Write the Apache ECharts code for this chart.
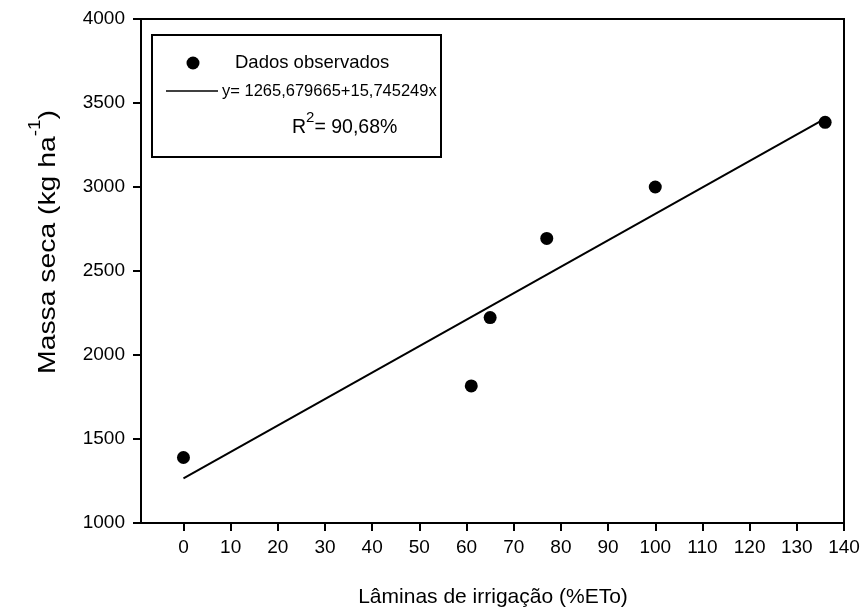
<!DOCTYPE html>
<html>
<head>
<meta charset="utf-8">
<script src="https://cdn.jsdelivr.net/npm/echarts@6/dist/echarts.min.js"></script>
<style>
  html, body { margin: 0; padding: 0; background: #fff; }
  #chart { width: 867px; height: 616px; }
</style>
</head>
<body>
<div id="chart"></div>
<script>
// Irrigation depth (%ETo) and observed dry mass (kg/ha)
const laminas = [0, 61, 65, 77, 100, 136];
const massaSeca = [1390, 1816, 2223, 2694, 3000, 3385];

// Fitted regression: y = a + b x
const intercept = 1265.679665;
const slope = 15.745249;
const r2Text = '90,68%';
const fitRange = [0, 136];

const xTicks = [0, 10, 20, 30, 40, 50, 60, 70, 80, 90, 100, 110, 120, 130, 140];
const yTicks = [1000, 1500, 2000, 2500, 3000, 3500, 4000];

const xTitle = 'Lâminas de irrigação (%ETo)';
const yTitleMain = 'Massa seca (kg ha';
const yTitleSup = '-1';

const fitLine = fitRange.map(x => [x, intercept + slope * x]);
const observed = laminas.map((x, i) => [x, massaSeca[i]]);
const fmt = v => v.toFixed(6).replace('.', ',');

const FONT = '"Liberation Sans", Arial, sans-serif';
const chart = echarts.init(document.getElementById('chart'), null, { renderer: 'canvas' });

chart.setOption({
  animation: false,
  backgroundColor: '#ffffff',
  grid: { left: 141, right: 23, top: 19, bottom: 93, show: true, borderColor: '#000', borderWidth: 2, backgroundColor: 'transparent' },
  xAxis: {
    type: 'value',
    min: -9,
    max: 140,
    axisLine: { show: true, onZero: false, lineStyle: { color: '#000', width: 2 } },
    axisTick: { show: true, inside: false, length: 8, lineStyle: { color: '#000', width: 2 }, customValues: xTicks },
    axisLabel: { fontFamily: FONT, fontSize: 19, color: '#000', margin: 15, customValues: xTicks },
    splitLine: { show: false }
  },
  yAxis: {
    type: 'value',
    min: 1000,
    max: 4000,
    axisLine: { show: true, onZero: false, lineStyle: { color: '#000', width: 2 } },
    axisTick: { show: true, inside: false, length: 8, lineStyle: { color: '#000', width: 2 }, customValues: yTicks },
    axisLabel: { fontFamily: FONT, fontSize: 19, color: '#000', margin: 16, customValues: yTicks, formatter: v => String(v) },
    splitLine: { show: false }
  },
  series: [
    {
      name: 'Dados observados',
      type: 'scatter',
      data: observed,
      symbol: 'circle',
      symbolSize: 13,
      itemStyle: { color: '#000', opacity: 1 },
      z: 3
    },
    {
      name: 'Ajuste',
      type: 'line',
      data: fitLine,
      showSymbol: false,
      symbol: 'none',
      lineStyle: { color: '#000', width: 2 },
      z: 2
    }
  ],
  graphic: [
    // axis titles
    {
      type: 'text',
      x: 493, y: 597,
      style: { text: xTitle, font: '21px ' + FONT, fill: '#000', align: 'center', verticalAlign: 'middle' }
    },
    {
      type: 'text',
      x: 44, y: 242,
      rotation: Math.PI / 2,
      scaleX: 1.18,
      style: {
        text: '{m|' + yTitleMain + '}{s|' + yTitleSup + '}{m|)}',
        fill: '#000', align: 'center', verticalAlign: 'middle',
        rich: {
          m: { font: '24px ' + FONT, fill: '#000', lineHeight: 32, verticalAlign: 'bottom' },
          s: { font: '16px ' + FONT, fill: '#000', lineHeight: 32, verticalAlign: 'top' }
        }
      }
    },
    // legend box
    {
      type: 'rect',
      shape: { x: 152, y: 35, width: 289, height: 122 },
      style: { fill: '#fff', stroke: '#000', lineWidth: 2 },
      z: 10
    },
    {
      type: 'circle',
      shape: { cx: 193, cy: 63, r: 6.5 },
      style: { fill: '#000' },
      z: 11
    },
    {
      type: 'line',
      shape: { x1: 166, y1: 91, x2: 218, y2: 91 },
      style: { stroke: '#000', lineWidth: 1.5 },
      z: 11
    },
    {
      type: 'text',
      x: 235, y: 63,
      style: { text: 'Dados observados', font: '18.5px ' + FONT, fill: '#000', verticalAlign: 'middle' },
      z: 11
    },
    {
      type: 'text',
      x: 222, y: 91,
      style: {
        text: 'y= ' + fmt(intercept) + '+' + fmt(slope) + 'x',
        font: '16.5px ' + FONT, fill: '#000', verticalAlign: 'middle'
      },
      z: 11
    },
    {
      type: 'text',
      x: 292, y: 124,
      style: {
        text: '{m|R}{s|2}{m|= ' + r2Text + '}',
        fill: '#000',
        verticalAlign: 'middle',
        rich: {
          m: { font: '19.5px ' + FONT, fill: '#000', lineHeight: 28, verticalAlign: 'bottom' },
          s: { font: '15px ' + FONT, fill: '#000', lineHeight: 28, verticalAlign: 'top' }
        }
      },
      z: 11
    }
  ]
});
</script>
</body>
</html>
